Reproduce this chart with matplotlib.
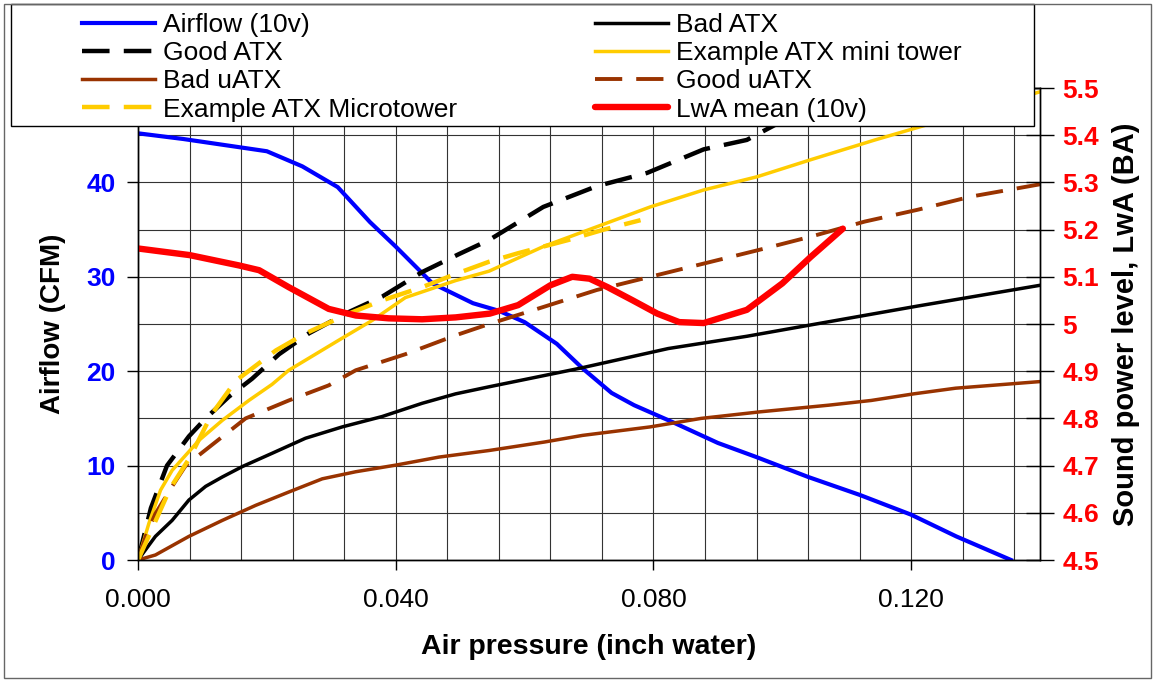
import matplotlib
matplotlib.use("Agg")
import matplotlib.pyplot as plt
from matplotlib.patches import Rectangle
from matplotlib.ticker import MultipleLocator, FuncFormatter

plt.rcParams['font.family'] = ['Liberation Sans', 'DejaVu Sans']

# airflow of the fan, CFM against static pressure
air_x = [0, 0.007, 0.020, 0.0255, 0.031, 0.036, 0.040, 0.0457, 0.052, 0.056, 0.060,
         0.065, 0.069, 0.0735, 0.077, 0.083, 0.090, 0.096, 0.104, 0.112, 0.120, 0.127, 0.1355]
air_cfm = [45.2, 44.6, 43.3, 41.7, 39.5, 35.8, 33.2, 29.3, 27.2, 26.4, 25.2,
           22.9, 20.3, 17.7, 16.4, 14.6, 12.4, 10.9, 8.8, 6.9, 4.8, 2.5, 0]

# system impedance curves
bad_atx_x = [0, 0.0027, 0.0053, 0.0079, 0.0105, 0.0131, 0.0162, 0.0208, 0.026, 0.0317,
             0.0379, 0.0441, 0.0493, 0.0545, 0.0685, 0.0823, 0.0945, 0.1044, 0.121, 0.14]
bad_atx_cfm = [0, 2.5, 4.2, 6.35, 7.8, 8.8, 9.9, 11.3, 12.9, 14.1,
               15.2, 16.6, 17.6, 18.35, 20.3, 22.4, 23.7, 24.9, 26.9, 29.1]

good_atx_x = [0, 0.002, 0.0045, 0.0079, 0.0105, 0.0141, 0.0177, 0.0219, 0.0265, 0.0322,
              0.0379, 0.0441, 0.0498, 0.0545, 0.0629, 0.0712, 0.079, 0.0878, 0.0945, 0.100]
good_atx_cfm = [0, 5.5, 10, 13.1, 15, 17.3, 19.2, 21.8, 24, 26.1,
                27.9, 30.5, 32.4, 33.9, 37.4, 39.6, 41, 43.5, 44.5, 46.5]

mini_x = [0, 0.0017, 0.0035, 0.0053, 0.0095, 0.0131, 0.0172, 0.0208, 0.0234, 0.0312,
          0.0364, 0.0415, 0.0493, 0.0545, 0.0629, 0.0712, 0.0795, 0.0878, 0.0961, 0.1044,
          0.1144, 0.14]
mini_cfm = [0, 3.9, 7.4, 9.5, 12.7, 14.8, 16.9, 18.6, 20.1, 23.3,
            25.4, 27.8, 29.6, 30.6, 33.2, 35.3, 37.4, 39.2, 40.6, 42.4,
            44.5, 49.6]

bad_uatx_x = [0, 0.0027, 0.0079, 0.0131, 0.0183, 0.0234, 0.0286, 0.0338, 0.040, 0.0467,
              0.0545, 0.0631, 0.069, 0.0795, 0.0874, 0.0966, 0.1072, 0.1138, 0.1204,
              0.1269, 0.14]
bad_uatx_cfm = [0, 0.53, 2.5, 4.2, 5.8, 7.2, 8.6, 9.35, 10.05, 10.9,
                11.6, 12.5, 13.2, 14.1, 15, 15.7, 16.4, 16.9, 17.6,
                18.2, 18.9]

good_uatx_x = [0, 0.0012, 0.0027, 0.0053, 0.0074, 0.0167, 0.0234, 0.0296, 0.0338, 0.0415,
               0.0493, 0.0545, 0.0629, 0.0712, 0.0795, 0.0878, 0.0961, 0.1044, 0.1128,
               0.121, 0.1293, 0.14]
good_uatx_cfm = [0, 2.5, 4.9, 7.8, 10, 15, 16.9, 18.5, 20.1, 21.8,
                 23.8, 25, 26.8, 28.6, 30, 31.4, 32.8, 34.25, 35.85,
                 37.1, 38.5, 39.8]

micro_x = [0, 0.0025, 0.005, 0.008, 0.0115, 0.0152, 0.0214, 0.026, 0.0327, 0.0379,
           0.0441, 0.0493, 0.0545, 0.059, 0.0668, 0.0723, 0.078]
micro_cfm = [0, 3.8, 7.6, 10.8, 15.5, 19, 22.2, 24, 26.1, 27.5,
             28.9, 30.3, 31.6, 32.5, 33.9, 35, 36]

# sound power level of the fan, bels A-weighted
lwa_x = [0, 0.008, 0.0157, 0.0188, 0.0234, 0.0296, 0.0338, 0.0389, 0.0441, 0.0493,
         0.0546, 0.059, 0.064, 0.0674, 0.0701, 0.0729, 0.0768, 0.0806, 0.084, 0.0878,
         0.0945, 0.100, 0.1044, 0.1094]
lwa_ba = [5.16, 5.146, 5.124, 5.114, 5.078, 5.032, 5.018, 5.012, 5.01, 5.014,
          5.022, 5.04, 5.082, 5.10, 5.096, 5.078, 5.05, 5.022, 5.004, 5.002,
          5.03, 5.086, 5.142, 5.202]

W, H = 1155, 681
fig = plt.figure(figsize=(W / 100, H / 100), dpi=100)
ax = fig.add_axes([138 / W, (H - 560) / H, 902 / W, 472 / H])
ax2 = ax.twinx()

BROWN = '#993300'
GOLD = '#FFCC00'

l_air, = ax.plot(air_x, air_cfm, color='#0000FF', lw=3, label='Airflow (10v)')
l_bad, = ax.plot(bad_atx_x, bad_atx_cfm, color='black', lw=2.5, label='Bad ATX')
l_good, = ax.plot(good_atx_x, good_atx_cfm, color='black', lw=3.2, dashes=(6.2, 3.2),
                  label='Good ATX')
l_mini, = ax.plot(mini_x, mini_cfm, color=GOLD, lw=2.5, label='Example ATX mini tower')
l_buatx, = ax.plot(bad_uatx_x, bad_uatx_cfm, color=BROWN, lw=2.5, label='Bad uATX')
l_guatx, = ax.plot(good_uatx_x, good_uatx_cfm, color=BROWN, lw=2.8, dashes=(7, 3.6),
                   label='Good uATX')
l_micro, = ax.plot(micro_x, micro_cfm, color=GOLD, lw=3.2, dashes=(6.2, 3.2),
                   label='Example ATX Microtower')
l_lwa, = ax2.plot(lwa_x, lwa_ba, color='#FF0000', lw=4.6, solid_capstyle='round',
                  label='LwA mean (10v)')

ax.set_xlim(0, 0.14)
ax.set_ylim(0, 50)
ax2.set_ylim(4.5, 5.5)

ax.xaxis.set_major_locator(MultipleLocator(0.04))
ax.xaxis.set_minor_locator(MultipleLocator(0.008))
ax.xaxis.set_major_formatter(FuncFormatter(lambda v, p: f'{v:.3f}'))
ax.yaxis.set_major_locator(MultipleLocator(10))
ax.yaxis.set_minor_locator(MultipleLocator(5))
ax2.yaxis.set_major_locator(MultipleLocator(0.1))
ax2.yaxis.set_major_formatter(FuncFormatter(lambda v, p: f'{round(v, 1):g}'))

ax.grid(which='both', color='#333333', lw=0.8)
ax.set_axisbelow(True)

ax.tick_params(axis='x', which='major', length=7, width=1, pad=13, labelsize=19)
ax.tick_params(axis='y', which='major', length=8, width=1, pad=8, labelsize=19,
               labelcolor='#0000FF')
ax.tick_params(which='minor', length=0)
ax2.tick_params(axis='y', which='major', direction='inout', length=20, width=1, pad=6,
                labelsize=19, labelcolor='#FF0000')
for lab in ax.get_yticklabels() + ax2.get_yticklabels():
    lab.set_fontweight('bold')

for sp in list(ax.spines.values()) + list(ax2.spines.values()):
    sp.set_color('black')
    sp.set_linewidth(1)

ax.set_xlabel('Air pressure (inch water)', fontsize=20.5, fontweight='bold')
ax.xaxis.set_label_coords(0.5, -0.157)
ax.set_ylabel('Airflow (CFM)', fontsize=20, fontweight='bold')
ax.yaxis.set_label_coords(-0.08, 0.5)
ax2.set_ylabel('Sound power level, LwA (BA)', fontsize=21, fontweight='bold')
ax2.yaxis.set_label_coords(1.08, 0.5)

# legend box sits over the top of the plot area
fig.add_artist(Rectangle((11 / W, (H - 126) / H), (1034 - 11) / W, 122 / H,
                         transform=fig.transFigure, facecolor='white',
                         edgecolor='black', lw=1, zorder=4))
leg_kw = dict(loc='upper left', frameon=False, fontsize=19, handlelength=2.77,
              handletextpad=0.3, labelspacing=0.16, borderpad=0, borderaxespad=0)
fig.legend(handles=[l_air, l_good, l_buatx, l_micro],
           bbox_to_anchor=(82 / W, 1 - 13 / H), **leg_kw)
fig.legend(handles=[l_bad, l_mini, l_guatx, l_lwa],
           bbox_to_anchor=(595 / W, 1 - 13 / H), **leg_kw)

# outer frame
fig.add_artist(Rectangle((4 / W, 3 / H), 1147 / W, 674 / H, transform=fig.transFigure,
                         fill=False, edgecolor='#666666', lw=1, zorder=10))

fig.savefig('out.png', dpi=100)
